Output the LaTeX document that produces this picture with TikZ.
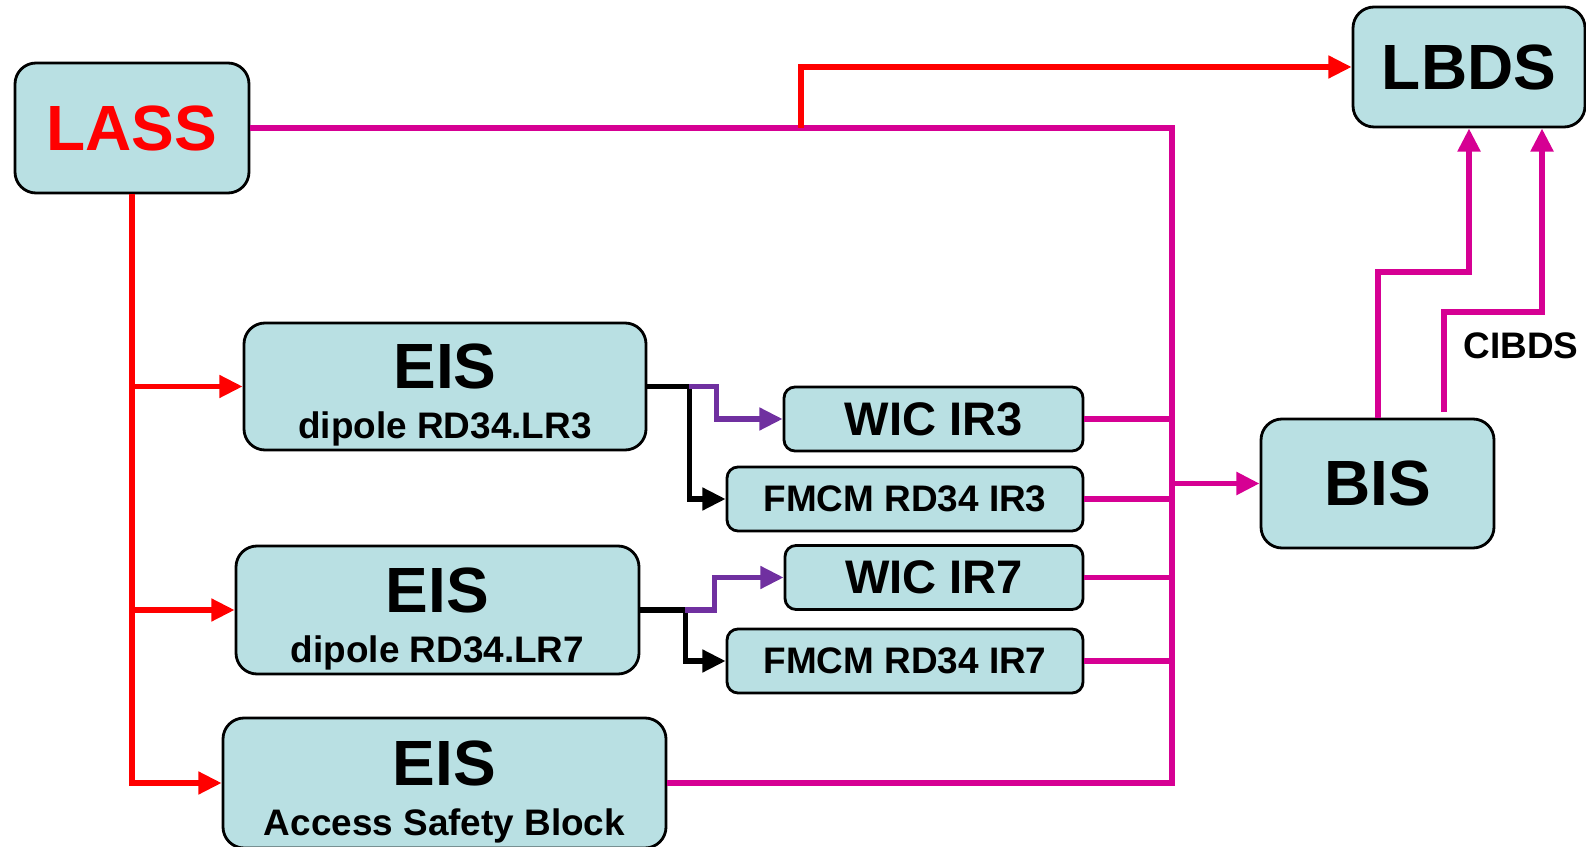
\documentclass[tikz,border=0pt]{standalone}
\usepackage{fontspec}
\setmainfont{Liberation Sans}
\usetikzlibrary{calc, arrows.meta}

\definecolor{boxfill}{RGB}{185,224,227}
\definecolor{lmag}{RGB}{214,0,147}
\definecolor{lpurple}{RGB}{112,48,160}

\begin{document}
\begin{tikzpicture}[
    >={Triangle[length=6.6pt, width=6.2pt]},
    wire/.style={line width=1.5pt},
    pwire/.style={lmag, line width=1.7pt},
    blk/.style={draw=black, line width=0.8pt, fill=boxfill, rounded corners=0.21cm,
        inner sep=0pt, align=center, font=\bfseries\fontsize{18.2}{14.2}\selectfont},
    sblk/.style={blk, rounded corners=0.11cm, minimum height=0.64cm}
]
    \useasboundingbox (0, 0) rectangle (15.86, 8.46);

    % main boxes
    \node[blk, text=red, minimum width=2.34cm, minimum height=1.30cm] (LASS) at (1.32, 7.18) {LASS};
    \node[blk, minimum width=2.32cm, minimum height=1.20cm] (LBDS) at (14.69, 7.79) {LBDS};
    \node[blk, minimum width=2.33cm, minimum height=1.29cm] (BIS) at (13.775, 3.625) {BIS};

    \node[blk, minimum width=4.02cm, minimum height=1.27cm] (EIS1) at (4.45, 4.595)
        {EIS\rule{0pt}{17.8pt}\\{\fontsize{10.5}{14.2}\selectfont dipole RD34.LR3}};
    \node[blk, minimum width=4.03cm, minimum height=1.28cm] (EIS2) at (4.375, 2.36)
        {EIS\rule{0pt}{17.8pt}\\{\fontsize{10.5}{14.2}\selectfont dipole RD34.LR7}};
    \node[blk, minimum width=4.43cm, minimum height=1.30cm] (EIS3) at (4.445, 0.63)
        {EIS\rule{0pt}{17.8pt}\\{\fontsize{10.5}{14.2}\selectfont Access Safety Block}};

    % interlock boxes
    \node[sblk, font=\bfseries\fontsize{13.4}{16}\selectfont, minimum width=2.99cm] (WIC3) at (9.335, 4.27) {WIC IR3};
    \node[sblk, font=\bfseries\fontsize{10.5}{13}\selectfont, minimum width=3.56cm] (FMCM3) at (9.05, 3.47) {FMCM RD34 IR3};
    \node[sblk, font=\bfseries\fontsize{13.4}{16}\selectfont, minimum width=2.98cm] (WIC7) at (9.34, 2.685) {WIC IR7};
    \node[sblk, font=\bfseries\fontsize{10.5}{13}\selectfont, minimum width=3.56cm] (FMCM7) at (9.05, 1.85) {FMCM RD34 IR7};

    \coordinate (busend) at (11.72, 0.63);
    \coordinate (split) at (8.01, 7.18);

    % LASS to the EIS boxes
    \draw[red, wire, ->] (LASS.south) |- (EIS1.west);
    \draw[red, wire, ->] (LASS.south) |- (EIS2.west);
    \draw[red, wire, ->] (LASS.south) |- (EIS3.west);

    % user permit bus into BIS
    \draw[pwire] (LASS.east) -| (busend) -- (EIS3.east);
    \foreach \n in {WIC3, FMCM3, WIC7, FMCM7}
        \draw[pwire] (\n.east) -- (\n.east -| busend);
    \draw[pwire, ->] (BIS.west -| busend) -- (BIS.west);

    \draw[red, wire, ->] (split) |- (LBDS.west);

    % EIS outputs
    \draw[wire, ->] (EIS1.east) -- ++(0.42, 0) coordinate (tap3) |- (FMCM3.west);
    \draw[lpurple, wire, ->] (tap3) -- ++(0.27, 0) |- (WIC3.west);
    \draw[wire, ->] (EIS2.east) -- ++(0.45, 0) coordinate (tap7) |- (FMCM7.west);
    \draw[lpurple, wire, ->] (tap7) -- ++(0.29, 0) |- (WIC7.west);

    % BIS to LBDS
    \draw[pwire, ->] (BIS.north) -- ++(0, 1.46) -| (LBDS.south);
    \draw[pwire, ->] ($(BIS.north)+(0.66, 0.06)$) -- ++(0, 1.0) -| ($(LBDS.south)+(0.73, 0)$);
    \node[font=\bfseries\fontsize{10.5}{13}\selectfont] (cibds) at (15.21, 5.0) {CIBDS};
\end{tikzpicture}
\end{document}
